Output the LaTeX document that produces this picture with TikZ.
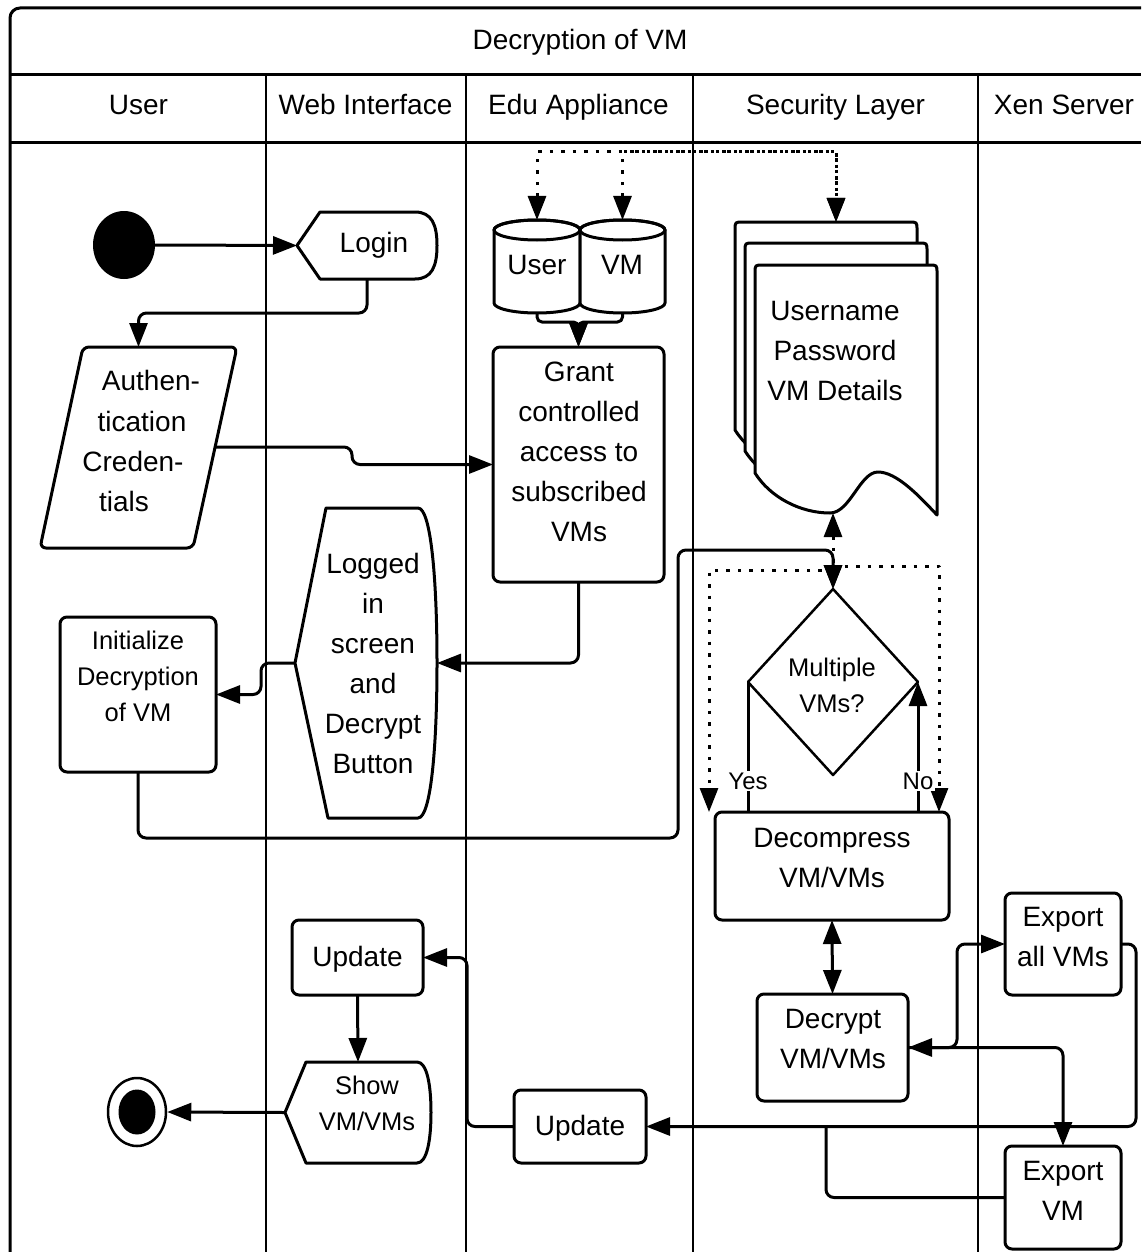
\documentclass[tikz,border=0pt]{standalone}
\usepackage{fontspec}
\setmainfont{Liberation Sans}
\usetikzlibrary{arrows.meta,calc,shapes.geometric}
\begin{document}
\begin{tikzpicture}[x=1pt,y=-1pt,
  line join=round,
  >={Triangle[length=24pt,width=18pt]},
  lane/.style={line width=2pt},
  band/.style={line width=3pt},
  shapeline/.style={draw, line width=3pt, fill=white},
  frame/.style={inner sep=0pt, outer sep=0pt},
  box/.style={draw, line width=3pt, fill=white, rounded corners=7pt, inner sep=0pt, outer sep=0pt},
  txt/.style={font=\fontsize{28}{40}\selectfont, align=center, inner sep=0pt},
  small/.style={font=\fontsize{25.5}{36}\selectfont, align=center, inner sep=0pt},
  lbl/.style={font=\fontsize{24}{28}\selectfont, fill=white, inner sep=1.5pt},
  flow/.style={line width=3pt, rounded corners=8pt, ->},
  plain/.style={line width=3pt, rounded corners=8pt},
  dots/.style={line width=3pt, dash pattern=on 3.5pt off 8pt},
]
\clip (0,0) rectangle (1141,1252);

% ---- swimlane frame ----
\draw[band, rounded corners=10pt] (10,8) rectangle (1170,1280);
\draw[band] (10,75) -- (1141,75);
\draw[band] (10,143) -- (1141,143);
\foreach \x in {266,466,693,978} \draw[lane] (\x,75) -- (\x,1252);

\node[txt, anchor=base] (title) at (580,50) {Decryption of VM};
\node[txt, anchor=base] (hUser) at (138.5,115) {User};
\node[txt, anchor=base] (hWeb)  at (365.5,115) {Web Interface};
\node[txt, anchor=base] (hEdu)  at (578.5,115) {Edu Appliance};
\node[txt, anchor=base] (hSec)  at (835.5,115) {Security Layer};
\node[txt, anchor=base] (hXen)  at (1064,115) {Xen Server};

% ---- start / end ----
\node[ellipse, fill=black, minimum width=62pt, minimum height=68pt, inner sep=0pt] (start) at (124,245) {};
\node[ellipse, draw, line width=2.5pt, minimum width=58pt, minimum height=68pt, inner sep=0pt] (end) at (137,1112) {};
\node[ellipse, fill=black, minimum width=37pt, minimum height=45pt, inner sep=0pt] (endDot) at (137,1112) {};

% ---- Login (display shape) ----
\node[frame, minimum width=140pt, minimum height=67pt] (login) at (367,245.5) {};
\draw[shapeline] (297,245.5) -- (320,212) -- (415,212)
  .. controls (432,212) and (437,225) .. (437,245.5)
  .. controls (437,266) and (432,279) .. (415,279) -- (320,279) -- cycle;
\node[txt, anchor=base] (loginT) at (374,252) {Login};

% ---- Authentication credentials (data) ----
\node[frame, minimum width=197pt, minimum height=201pt] (auth) at (138.5,447.5) {};
\draw[shapeline, rounded corners=6pt] (83,347) -- (237,347) -- (193,548) -- (40,548) -- cycle;
\coordinate (authR) at (215,447);
\node[txt] (authT1) at (151,380) {Authen-};
\node[txt] (authT2) at (142,421) {tication};
\node[txt] (authT3) at (133,461) {Creden-};
\node[txt] (authT4) at (124,501) {tials};

% ---- databases ----
\node[frame, minimum width=86pt, minimum height=93pt] (userdb) at (537,266.5) {};
\node[frame, minimum width=85pt, minimum height=93pt] (vmdb) at (622.5,266.5) {};
\draw[shapeline] (494,230) -- (494,303) arc[start angle=180, end angle=360, x radius=43pt, y radius=10pt]
  -- (580,230) arc[start angle=0, end angle=180, x radius=43pt, y radius=10pt] -- cycle;
\draw[line width=3pt] (537,230) ellipse [x radius=43pt, y radius=10pt];
\draw[shapeline] (580,230) -- (580,303) arc[start angle=180, end angle=360, x radius=42.5pt, y radius=10pt]
  -- (665,230) arc[start angle=0, end angle=180, x radius=42.5pt, y radius=10pt] -- cycle;
\draw[line width=3pt] (622.5,230) ellipse [x radius=42.5pt, y radius=10pt];
\node[txt] (userdbT) at (537,265) {User};
\node[txt] (vmdbT) at (622,265) {VM};

% ---- stacked documents ----
\foreach \dx/\dy in {-20/-43,-10/-22,0/0}{
  \begin{scope}[shift={(\dx,\dy)}]
    \draw[shapeline] (755,473) -- (755,273) .. controls (755,265) .. (763,265) -- (929,265)
      .. controls (937,265) .. (937,273) -- (937,515)
      .. controls (920,497) and (897,472) .. (878,472)
      .. controls (860,472) and (850,513) .. (830,513)
      .. controls (800,513) and (770,497) .. (755,473) -- cycle;
  \end{scope}
}
\node[frame, minimum width=202pt, minimum height=293pt] (doc) at (836,368.5) {};
\coordinate (docTop) at (836,222);
\coordinate (docBot) at (833,513);
\node[txt] (docT) at (835,351) {Username\\Password\\VM Details};

% ---- boxes ----
\node[box, minimum width=171pt, minimum height=235pt] (grant) at (578.5,464.5) {};
\node[txt] (grantT) at (579,451.5) {Grant\\controlled\\access to\\subscribed\\VMs};

\node[frame, minimum width=142pt, minimum height=310pt] (logged) at (366,663) {};
\draw[shapeline] (295,663) -- (326,508) -- (418,508)
  .. controls (431,508) and (437,580) .. (437,663)
  .. controls (437,746) and (431,818) .. (418,818) -- (328,818) -- cycle;
\node[txt] (loggedT) at (373,663) {Logged\\in\\screen\\and\\Decrypt\\Button};

\node[box, minimum width=156pt, minimum height=155pt] (init) at (138,694.5) {};
\node[small] (initT) at (138,676) {Initialize\\Decryption\\of VM};

% ---- decision ----
\node[frame, minimum width=170pt, minimum height=186pt] (dia) at (833,682) {};
\draw[shapeline, line width=2.5pt] (dia.north) -- (dia.east) -- (dia.south) -- (dia.west) -- cycle;
\node[small] (diaT) at (832,685) {Multiple\\VMs?};

\node[box, minimum width=234pt, minimum height=108pt] (decomp) at (832,866) {};
\node[txt] (decompT) at (832,858) {Decompress\\VM/VMs};

\node[box, minimum width=151pt, minimum height=107pt] (decrypt) at (832.5,1047.5) {};
\node[txt] (decryptT) at (833,1039) {Decrypt\\VM/VMs};

\node[box, minimum width=116pt, minimum height=102pt] (expall) at (1063,944) {};
\node[txt] (expallT) at (1063,937) {Export\\all VMs};

\node[box, minimum width=116pt, minimum height=103pt] (expvm) at (1063,1197.5) {};
\node[txt] (expvmT) at (1063,1191) {Export\\VM};

\node[box, minimum width=132pt, minimum height=73pt] (update2) at (580,1126.5) {};
\node[txt, anchor=base] (update2T) at (580,1135) {Update};

\node[box, minimum width=131pt, minimum height=75pt] (update1) at (357.5,957.5) {};
\node[txt, anchor=base] (update1T) at (357.5,966) {Update};

\node[frame, minimum width=146pt, minimum height=101pt] (show) at (358,1112.5) {};
\draw[shapeline] (285,1112.5) -- (306,1062) -- (417,1062)
  .. controls (427,1062) and (431,1085) .. (431,1112.5)
  .. controls (431,1140) and (427,1163) .. (417,1163) -- (306,1163) -- cycle;
\node[small] (showT) at (367,1103) {Show\\VM/VMs};

% ---- connectors ----
\coordinate (topBus) at (700,152);
\draw[dots,<->] (userdb.north) |- (topBus) -| (docTop);
\draw[dots,<->] (vmdb.north) |- (topBus) -| (docTop);

\draw[flow] (start.east) -- (login.west);
\draw[flow] (login.south) -- ++(0,34) -| (auth.north);
\draw[flow] (authR) -| ($(grant.west)+(-141,0)$) -- (grant.west);

\coordinate (dbJoin) at (578.5,322);
\draw[flow, rounded corners=5pt] (userdb.south) |- (dbJoin) -- (grant.north);
\draw[flow, rounded corners=5pt] (vmdb.south) |- (dbJoin) -- (grant.north);

\draw[flow] (grant.south) |- (logged.east);
\draw[flow] (logged.west) -- ++(-34,0) |- (init.east);

\coordinate (busLow) at (678,838);
\coordinate (busHigh) at (700,550);
\draw[flow] (init.south) |- (busLow) |- (busHigh) -| (dia.north);

\draw[dots,<->] (docBot) -- (dia.north);
\coordinate (splitL) at (833,570);
\coordinate (splitR) at (833,566);
\draw[dots,->] (splitL) -| ($(decomp.north west)+(-6,0)$);
\draw[dots,->] (splitR) -| ($(decomp.north east)+(-10,0)$);

\draw[line width=3pt] (dia.west) -- (dia.west |- decomp.north);
\draw[line width=3pt,->] (dia.east |- decomp.north) -- (dia.east);
\node[lbl] (yes) at (748,781) {Yes};
\node[lbl] (no) at (918,781) {No};

\draw[flow,<->] (decomp.south) -- (decrypt.north);

\coordinate (jct) at (957,1047.5);
\draw[flow] (decrypt.east) -- (jct) |- (expall.west);
\draw[flow,<->] (decrypt.east) -| (expvm.north);

\draw[flow] (expall.east) -- ++(15,0) |- (update2.east);
\draw[plain] (expvm.west) -| ($(update2.east)+(180,0)$);

\draw[flow] (update2.west) -- ++(-47,0) |- (update1.east);
\draw[flow] (update1.south) -- (show.north);
\draw[flow] (show.west) -- (end.east);
\end{tikzpicture}
\end{document}
